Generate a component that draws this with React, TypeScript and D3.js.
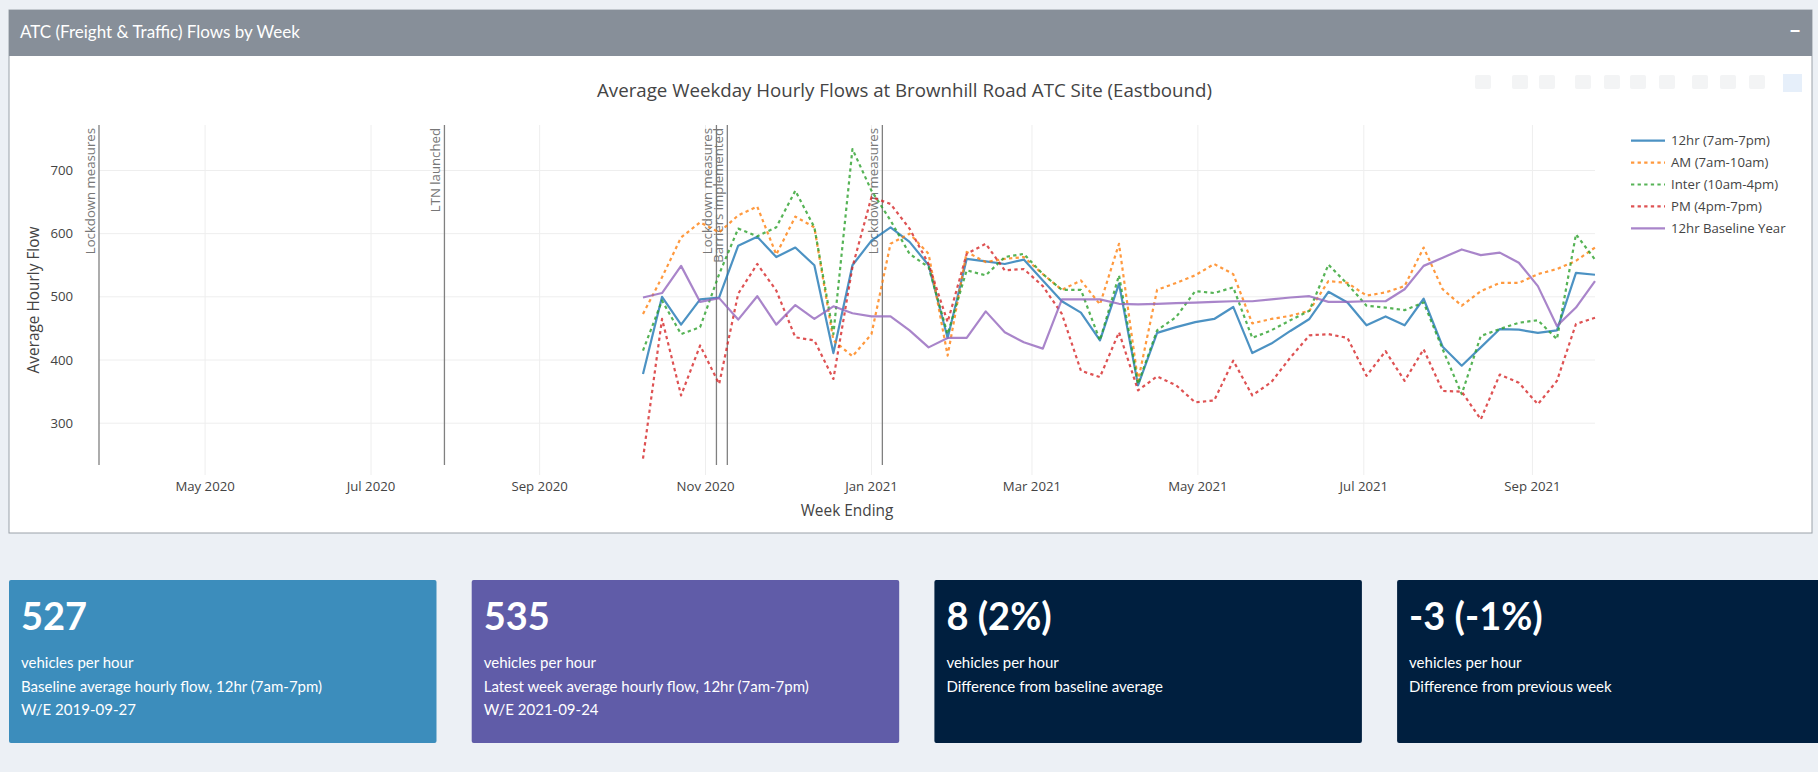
import { useEffect } from 'react'
import * as d3 from 'd3'

// week ending dates (Fridays)
const weekEnding = [
  '2020-10-09', '2020-10-16', '2020-10-23', '2020-10-30', '2020-11-06', '2020-11-13',
  '2020-11-20', '2020-11-27', '2020-12-04', '2020-12-11', '2020-12-18', '2020-12-25',
  '2021-01-01', '2021-01-08', '2021-01-15', '2021-01-22', '2021-01-29', '2021-02-05',
  '2021-02-12', '2021-02-19', '2021-02-26', '2021-03-05', '2021-03-12', '2021-03-19',
  '2021-03-26', '2021-04-02', '2021-04-09', '2021-04-16', '2021-04-23', '2021-04-30',
  '2021-05-07', '2021-05-14', '2021-05-21', '2021-05-28', '2021-06-04', '2021-06-11',
  '2021-06-18', '2021-06-25', '2021-07-02', '2021-07-09', '2021-07-16', '2021-07-23',
  '2021-07-30', '2021-08-06', '2021-08-13', '2021-08-20', '2021-08-27', '2021-09-03',
  '2021-09-10', '2021-09-17', '2021-09-24',
]

const twelveHr = [
  378, 500, 456, 496, 499, 581, 595, 563, 578, 550, 411, 550, 589, 610, 587, 550, 435,
  560, 556, 552, 559, 526, 493, 475, 431, 521, 360, 443, 452, 460, 465, 484, 411, 426,
  446, 465, 508, 491, 455, 469, 455, 497, 421, 391, 420, 449, 448, 443, 447, 538, 535,
]
const amPeak = [
  473, 531, 594, 618, 602, 629, 643, 567, 627, 610, 431, 406, 441, 584, 600, 568, 407,
  571, 555, 560, 563, 536, 511, 526, 488, 584, 367, 511, 522, 534, 552, 536, 458, 465,
  470, 478, 525, 522, 502, 507, 517, 578, 512, 486, 509, 522, 522, 536, 544, 557, 578,
]
const interPeak = [
  415, 494, 441, 452, 536, 608, 596, 610, 668, 610, 441, 734, 668, 621, 568, 547, 441,
  542, 534, 563, 568, 536, 511, 511, 431, 534, 362, 447, 468, 509, 506, 515, 435, 447,
  463, 478, 551, 520, 486, 483, 479, 491, 417, 346, 438, 449, 459, 463, 433, 599, 559,
]
const pmPeak = [
  244, 465, 344, 423, 362, 505, 552, 510, 436, 431, 370, 547, 658, 647, 608, 552, 460,
  568, 584, 542, 544, 517, 473, 383, 373, 444, 352, 374, 360, 333, 336, 399, 344, 365,
  404, 439, 441, 435, 375, 414, 367, 417, 351, 350, 306, 377, 364, 330, 367, 457, 467,
]
const baselineYear = [
  499, 506, 549, 492, 498, 464, 501, 456, 487, 465, 485, 474, 469, 469, 447, 420, 435,
  435, 477, 444, 428, 418, 496, 496, 496, 489, 488, 489, 490, 491, 492, 493, 493, 496,
  499, 501, 492, 492, 493, 493, 512, 549, 562, 575, 566, 570, 554, 517, 454, 483, 525,
]

const seriesNames = ['12hr (7am-7pm)', 'AM (7am-10am)', 'Inter (10am-4pm)', 'PM (4pm-7pm)', '12hr Baseline Year']
const seriesValues = [twelveHr, amPeak, interPeak, pmPeak, baselineYear]
const seriesColors = ['#1f77b4', '#ff7f0e', '#2ca02c', '#d62728', '#9467bd']
const seriesDotted = [false, true, true, true, false]

const eventDates = ['2020-03-23', '2020-07-28', '2020-11-05', '2020-11-09', '2021-01-05']
const eventLabels = ['Lockdown measures', 'LTN launched', 'Lockdown measures', 'Barriers implemented', 'Lockdown measures']

const yTicks = [300, 400, 500, 600, 700]

const boxValues = ['527', '535', '8 (2%)', '-3 (-1%)']
const boxLines = [
  ['vehicles per hour', 'Baseline average hourly flow, 12hr (7am-7pm)', 'W/E 2019-09-27'],
  ['vehicles per hour', 'Latest week average hourly flow, 12hr (7am-7pm)', 'W/E 2021-09-24'],
  ['vehicles per hour', 'Difference from baseline average'],
  ['vehicles per hour', 'Difference from previous week'],
]
const boxColors = ['#3c8dbc', '#605ca8', '#001f3f', '#001f3f']

const W = 1818
const H = 772
const plot = { left: 99, right: 1595, top: 125, bottom: 475 }
const chartFont = "'Open Sans', verdana, arial, sans-serif"
const pageFont = "Lato, 'Noto Sans', sans-serif"

export default function App() {
  useEffect(() => {
    document.body.style.margin = '0'
  }, [])

  const parse = d3.utcParse('%Y-%m-%d')
  const dates = weekEnding.map((d) => parse(d) as Date)

  const x = d3
    .scaleUtc()
    .domain([parse('2020-03-23') as Date, parse('2021-09-24') as Date])
    .range([plot.left, plot.right])
  const y = d3.scaleLinear().domain([218, 772]).range([plot.bottom, plot.top])

  const xTicks = x.ticks(d3.utcMonth.every(2) as d3.TimeInterval)
  const fmt = d3.utcFormat('%b %Y')

  const line = d3
    .line<number>()
    .x((_, i) => x(dates[i]))
    .y((d) => y(d))

  const modebar = [1483, 1520, 1547, 1583, 1612, 1638, 1667, 1700, 1728, 1757]

  return (
    <div style={{ position: 'absolute', left: 0, top: 0 }}>
      <svg width={W} height={H} style={{ display: 'block' }}>
        <rect width={W} height={H} fill='#ecf0f5' />

        {/* panel */}
        <rect x={9} y={10} width={1803} height={523} fill='#fff' stroke='#9aa1a9' />
        <rect x={9} y={10} width={1803} height={46} fill='#878f99' />
        <text x={20} y={32} dy='0.35em' fill='#fff' fontSize={17} fontFamily={pageFont}>
          ATC (Freight &amp; Traffic) Flows by Week
        </text>
        <text x={1795} y={31} dy='0.35em' fill='#fff' fontSize={20} fontWeight={700} fontFamily={pageFont} textAnchor='middle'>
          −
        </text>

        {/* modebar */}
        {modebar.map((mx, i) => (
          <rect key={i} x={mx - 8} y={75} width={16} height={14} rx={2} fill='#f3f4f5' />
        ))}
        <rect x={1783} y={74} width={19} height={18} fill='#e6effa' />

        <text x={597} y={90} dy='0.35em' fill='#444' fontSize={18.7} fontFamily={chartFont}>
          Average Weekday Hourly Flows at Brownhill Road ATC Site (Eastbound)
        </text>

        {/* grid */}
        {xTicks.map((t, i) => (
          <line key={i} x1={x(t)} x2={x(t)} y1={plot.top} y2={plot.bottom} stroke='#eee' />
        ))}
        {yTicks.map((t) => (
          <line key={t} x1={plot.left} x2={plot.right} y1={y(t)} y2={y(t)} stroke='#eee' />
        ))}

        {/* axes labels */}
        {yTicks.map((t) => (
          <text key={t} x={73} y={y(t)} dy='0.35em' textAnchor='end' fill='#444' fontSize={13.2} fontFamily={chartFont}>
            {t}
          </text>
        ))}
        {xTicks.map((t, i) => (
          <text key={i} x={x(t)} y={486} dy='0.35em' textAnchor='middle' fill='#444' fontSize={13.2} fontFamily={chartFont}>
            {fmt(t)}
          </text>
        ))}
        <text
          transform={`translate(34,${(plot.top + plot.bottom) / 2}) rotate(-90)`}
          dy='0.35em'
          textAnchor='middle'
          fill='#444'
          fontSize={15.4}
          fontFamily={chartFont}
        >
          Average Hourly Flow
        </text>
        <text x={(plot.left + plot.right) / 2} y={511} dy='0.35em' textAnchor='middle' fill='#444' fontSize={15.4} fontFamily={chartFont}>
          Week Ending
        </text>

        {/* event lines */}
        {eventDates.map((d, i) => {
          const ex = x(parse(d) as Date)
          return (
            <g key={i}>
              <line x1={ex} x2={ex} y1={plot.top} y2={plot.bottom - 10} stroke='#808080' strokeWidth={1.3} />
              <text
                transform={`translate(${ex - 4},${plot.top + 3}) rotate(-90)`}
                textAnchor='end'
                fill='#777'
                fontSize={13.2}
                fontFamily={chartFont}
              >
                {eventLabels[i]}
              </text>
            </g>
          )
        })}

        {/* series */}
        {seriesValues.map((vals, s) => (
          <path
            key={s}
            d={line(vals) || ''}
            fill='none'
            stroke={seriesColors[s]}
            strokeOpacity={0.8}
            strokeWidth={2.2}
            strokeDasharray={seriesDotted[s] ? '3.3,3.3' : undefined}
            strokeLinejoin='round'
          />
        ))}

        {/* legend */}
        {seriesNames.map((n, s) => {
          const ly = 140.7 + s * 21.9
          return (
            <g key={s}>
              <line
                x1={1631}
                x2={1665}
                y1={ly}
                y2={ly}
                stroke={seriesColors[s]}
                strokeOpacity={0.8}
                strokeWidth={2.2}
                strokeDasharray={seriesDotted[s] ? '3.3,3.3' : undefined}
              />
              <text x={1671} y={ly} dy='0.35em' fill='#444' fontSize={13.2} fontFamily={chartFont}>
                {n}
              </text>
            </g>
          )
        })}

        {/* value boxes */}
        {boxValues.map((v, b) => {
          const bx = 9 + b * 462.7
          return (
            <g key={b}>
              <rect x={bx} y={580} width={427.5} height={163} rx={2} fill={boxColors[b]} />
              <text x={bx + 12} y={617} dy='0.35em' fill='#fff' fontSize={38} fontWeight={700} fontFamily={pageFont}>
                {v}
              </text>
              {boxLines[b].map((t, k) => (
                <text key={k} x={bx + 12} y={663 + k * 23.5} dy='0.35em' fill='#fff' fontSize={15} fontFamily={pageFont}>
                  {t}
                </text>
              ))}
            </g>
          )
        })}
      </svg>
    </div>
  )
}
